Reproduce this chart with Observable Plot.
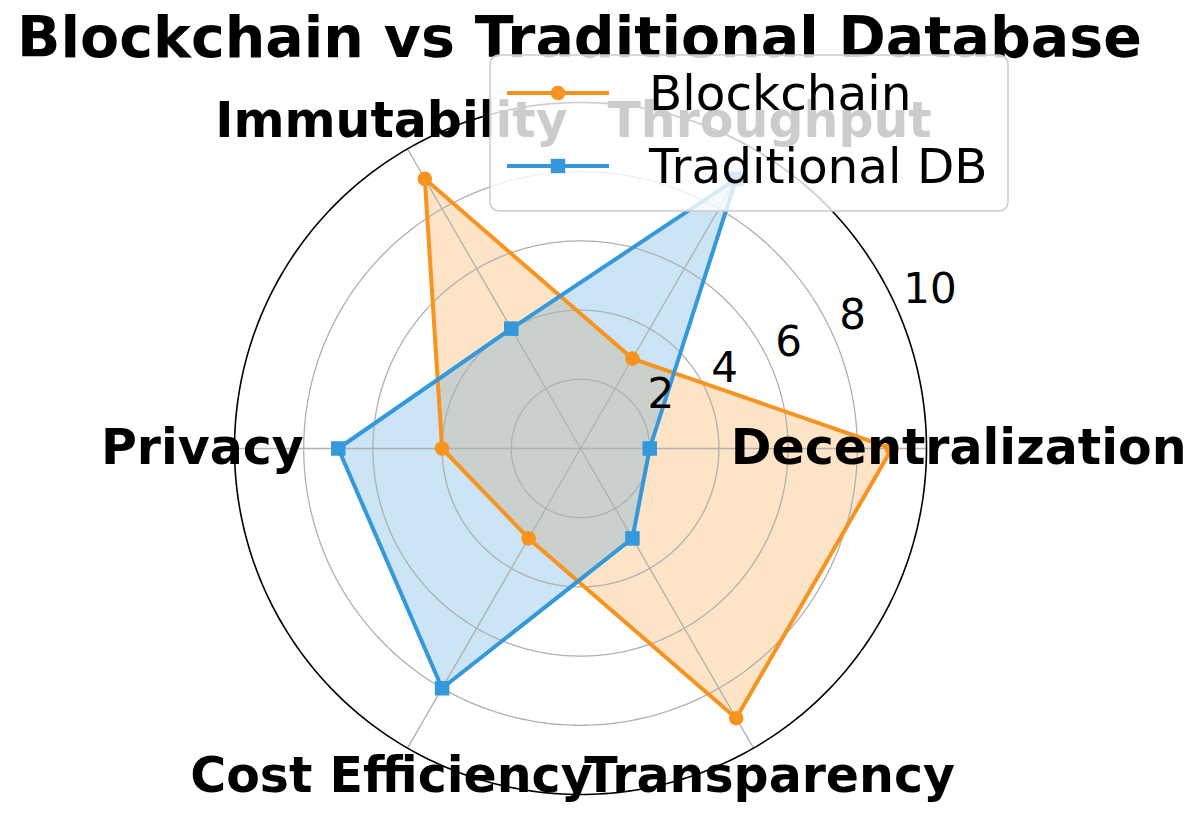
<!DOCTYPE html>
<html>
<head>
<meta charset="utf-8">
<script src="https://cdn.jsdelivr.net/npm/d3@7"></script>
<script src="https://cdn.jsdelivr.net/npm/@observablehq/plot@0.6"></script>
<style>
  html, body { margin: 0; padding: 0; background: #ffffff; }
  #wrap { position: relative; width: 1200px; height: 813px; overflow: hidden; font-family: "DejaVu Sans", sans-serif; }
  #wrap svg { display: block; }
  #legend { position: absolute; left: 0; top: 0; }
</style>
</head>
<body>
<div id="wrap"></div>
<script>
// ---- data ----
const categories = ["Decentralization", "Throughput", "Immutability", "Privacy", "Cost Efficiency", "Transparency"];
const seriesNames = ["Blockchain", "Traditional DB"];
const blockchain = [9, 3, 9, 4, 3, 9];
const traditional = [2, 9, 4, 7, 8, 3];
const rTicks = [2, 4, 6, 8, 10];
const title = "Blockchain vs Traditional Database";
const colors = ["#F7931E", "#3498DB"];
const symbols = ["circle", "square"];

// ---- geometry ----
const W = 1200, H = 813;
const CX = 580, CY = 448, K = 34.6; // px per unit
const RMAX = 10;
const angleOf = i => (i * 2 * Math.PI) / categories.length;

const rows = [];
[blockchain, traditional].forEach((vals, si) => {
  vals.forEach((v, i) => {
    rows.push({series: seriesNames[si], cat: categories[i], value: v,
      x: v * Math.cos(angleOf(i)), y: v * Math.sin(angleOf(i))});
  });
});

const circlePts = [];
for (const r of rTicks) {
  for (let k = 0; k < 360; k += 1) {
    const a = k * Math.PI / 180;
    circlePts.push({r, x: r * Math.cos(a), y: r * Math.sin(a)});
  }
}

const spokes = categories.map((c, i) => ({cat: c, x: RMAX * Math.cos(angleOf(i)), y: RMAX * Math.sin(angleOf(i))}));
const LR = 10.93;
const labelPts = categories.map((c, i) => ({cat: c, x: LR * Math.cos(angleOf(i)), y: LR * Math.sin(angleOf(i))}));
const ra = 22.5 * Math.PI / 180;
const rLabelPts = rTicks.map(r => ({r, x: r * Math.cos(ra), y: r * Math.sin(ra)}));

const marks = [];
// fills (below grid, like matplotlib patches)
seriesNames.forEach((s, si) => {
  marks.push(Plot.line(rows.filter(d => d.series === s), {
    x: "x", y: "y", curve: "linear-closed", fill: colors[si], fillOpacity: 0.25, stroke: "none"
  }));
});
// grid
marks.push(Plot.line(circlePts.filter(d => d.r < RMAX), {x: "x", y: "y", z: "r", curve: "linear-closed", stroke: "#b0b0b0", strokeWidth: 1.3}));
marks.push(Plot.link(spokes, {x1: () => 0, y1: () => 0, x2: "x", y2: "y", stroke: "#b0b0b0", strokeWidth: 1.3}));
marks.push(Plot.line(circlePts.filter(d => d.r === RMAX), {x: "x", y: "y", curve: "linear-closed", stroke: "#000000", strokeWidth: 1.6}));
// lines + markers
seriesNames.forEach((s, si) => {
  const data = rows.filter(d => d.series === s);
  marks.push(Plot.line(data, {x: "x", y: "y", curve: "linear-closed", stroke: colors[si], strokeWidth: 4, strokeLinejoin: "round"}));
  marks.push(Plot.dot(data, {x: "x", y: "y", symbol: () => symbols[si], r: si === 0 ? 7.3 : 8.2, fill: colors[si], stroke: "none"}));
});
// radial tick labels
marks.push(Plot.text(rLabelPts, {x: "x", y: "y", text: d => String(d.r), textAnchor: "start", lineAnchor: "middle", dx: 3, dy: -27, fontSize: 42, fill: "#000"}));
// category labels
marks.push(Plot.text(labelPts, {x: "x", y: "y", text: "cat", textAnchor: "middle", lineAnchor: "middle", fontSize: 49, fontWeight: "bold", fill: "#000"}));
// title
marks.push(Plot.text([title], {frameAnchor: "top", text: d => d, lineAnchor: "top", dx: -21, dy: 16, fontSize: 57, fontWeight: "bold", fill: "#000"}));

const chart = Plot.plot({
  width: W, height: H, margin: 0,
  x: {type: "linear", domain: [-CX / K, (W - CX) / K], range: [0, W], axis: null},
  y: {type: "linear", domain: [-(H - CY) / K, CY / K], range: [H, 0], axis: null},
  style: {fontFamily: "DejaVu Sans", background: "transparent", overflow: "visible"},
  marks
});
const wrap = document.getElementById("wrap");
wrap.appendChild(chart);

// ---- legend (overlay, semi-transparent like matplotlib) ----
const lg = d3.select(wrap).append("svg").attr("id", "legend").attr("width", W).attr("height", H)
  .style("font-family", "DejaVu Sans");
lg.append("rect").attr("x", 490).attr("y", 55).attr("width", 518).attr("height", 156).attr("rx", 9)
  .attr("fill", "#ffffff").attr("fill-opacity", 0.8).attr("stroke", "#cccccc").attr("stroke-width", 1.5);
const legendY = [93, 166];
seriesNames.forEach((s, si) => {
  const y = legendY[si];
  lg.append("line").attr("x1", 507).attr("x2", 609).attr("y1", y).attr("y2", y)
    .attr("stroke", colors[si]).attr("stroke-width", 4);
  if (si === 0) lg.append("circle").attr("cx", 558).attr("cy", y).attr("r", 7.3).attr("fill", colors[si]);
  else lg.append("rect").attr("x", 558 - 7.2).attr("y", y - 7.2).attr("width", 14.4).attr("height", 14.4).attr("fill", colors[si]);
  lg.append("text").attr("x", 649).attr("y", y + 17).attr("font-size", 48.5).attr("fill", "#000").text(s);
});
</script>
</body>
</html>
